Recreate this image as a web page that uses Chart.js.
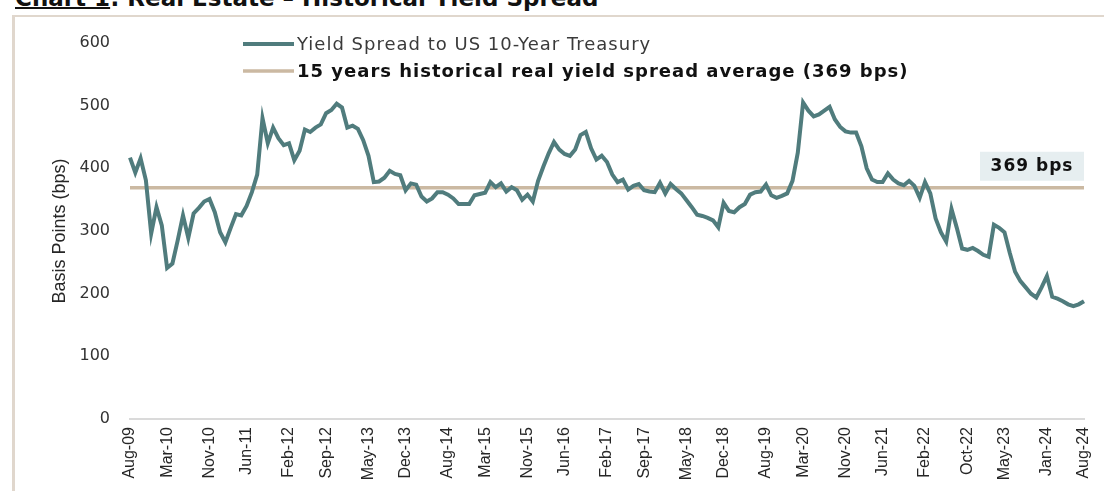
<!DOCTYPE html>
<html>
<head>
<meta charset="utf-8">
<script src="https://cdn.jsdelivr.net/npm/chart.js@4/dist/chart.umd.min.js"></script>
<style>
  body { margin: 0; background: #fff; }
  #wrap { position: relative; width: 1104px; height: 491px; overflow: hidden; background: #fff; }
  #title { position: absolute; left: 15px; top: -16px; font: bold 23px "DejaVu Sans", sans-serif; line-height: 28px; color: #111; white-space: nowrap; }
  #title u { text-decoration-thickness: 2px; }
  #frame { position: absolute; left: 12px; top: 15px; right: -5px; bottom: -5px; border-left: 3px solid #e0d7cd; border-top: 2px solid #e0d7cd; }
  #chart { position: absolute; left: 0; top: 0; }
</style>
</head>
<body>
<div id="wrap">
  <div id="title"><u>Chart 1</u>: Real Estate – Historical Yield Spread</div>
  <div id="frame"></div>
  <canvas id="chart" width="1104" height="491"></canvas>
</div>
<script>
// monthly data, Aug-09 .. Aug-24
const startYear = 2009;
const startMonth = 7; // Aug
const monthNames = ['Jan', 'Feb', 'Mar', 'Apr', 'May', 'Jun', 'Jul', 'Aug', 'Sep', 'Oct', 'Nov', 'Dec'];

const spreadValues = [
  417, 393, 416, 381, 296, 338, 309, 241, 248, 285,
  325, 289, 328, 337, 347, 351, 330, 298, 282, 305,
  327, 325, 340, 362, 390, 480, 440, 465, 448, 437,
  440, 413, 428, 462, 458, 465, 470, 488, 493, 503,
  497, 465, 468, 463, 445, 420, 378, 379, 385, 396,
  391, 389, 365, 376, 374, 355, 347, 352, 362, 362,
  358, 352, 343, 343, 343, 357, 359, 361, 378, 370,
  376, 363, 370, 365, 350, 358, 347, 380, 403, 424,
  442, 430, 423, 420, 430, 453, 458, 432, 414, 420,
  410, 390, 378, 382, 366, 372, 375, 365, 363, 362,
  377, 360, 375, 367, 360, 349, 338, 326, 324, 321,
  317, 306, 345, 332, 330, 338, 343, 358, 362, 363,
  374, 357, 353, 356, 360, 380, 425, 505, 492, 483,
  486, 492, 498, 478, 466, 459, 457, 457, 435, 400,
  382, 378, 378, 392, 382, 376, 373, 380, 372, 353,
  378, 360, 320, 298, 283, 335, 305, 272, 270, 273,
  268, 262, 259, 310, 305, 298, 265, 235, 220, 210,
  200, 194, 210, 228, 195, 192, 188, 183, 180, 183,
  188
];

const averageValue = 369;

const tickLabels = [
  'Aug-09', 'Mar-10', 'Nov-10', 'Jun-11', 'Feb-12', 'Sep-12', 'May-13', 'Dec-13',
  'Aug-14', 'Mar-15', 'Nov-15', 'Jun-16', 'Feb-17', 'Sep-17', 'May-18', 'Dec-18',
  'Aug-19', 'Mar-20', 'Nov-20', 'Jun-21', 'Feb-22', 'Oct-22', 'May-23', 'Jan-24', 'Aug-24'
];

const yTicks = [0, 100, 200, 300, 400, 500, 600];

const categories = [];
for (let i = 0; i < spreadValues.length; i++) {
  const m = (startMonth + i) % 12;
  const y = startYear + Math.floor((startMonth + i) / 12);
  categories.push(monthNames[m] + '-' + String(y).slice(2));
}

const averageLine = categories.map(() => averageValue);

const legendAndLabel = {
  id: 'legendAndLabel',
  afterDraw(chart) {
    const ctx = chart.ctx;
    ctx.save();
    chart.data.datasets.forEach((ds, i) => {
      const y = 44 + i * 27;
      ctx.strokeStyle = ds.borderColor;
      ctx.lineWidth = ds.borderWidth;
      ctx.beginPath();
      ctx.moveTo(243, y);
      ctx.lineTo(294, y);
      ctx.stroke();
      ctx.font = (i === 0 ? '' : 'bold ') + '18px "DejaVu Sans"';
      ctx.fillStyle = i === 0 ? '#3a3a3a' : '#111';
      ctx.textBaseline = 'middle';
      ctx.letterSpacing = '1px';
      ctx.fillText(ds.label, 297, y + 1);
    });
    const yAvg = chart.scales.y.getPixelForValue(averageValue);
    const right = chart.chartArea.right;
    ctx.fillStyle = '#e6eef0';
    ctx.fillRect(right - 104, yAvg - 36, 104, 29);
    ctx.fillStyle = '#111';
    ctx.font = 'bold 17px "DejaVu Sans"';
    ctx.letterSpacing = '1px';
    ctx.textAlign = 'center';
    ctx.textBaseline = 'middle';
    ctx.fillText(averageValue + ' bps', right - 52, yAvg - 21);
    ctx.restore();
  }
};

new Chart(document.getElementById('chart').getContext('2d'), {
  type: 'line',
  data: {
    labels: categories,
    datasets: [{
      label: 'Yield Spread to US 10-Year Treasury',
      data: spreadValues,
      borderColor: '#507c7d',
      borderWidth: 4,
      pointRadius: 0,
      tension: 0,
      fill: false,
      order: 1
    }, {
      label: '15 years historical real yield spread average (' + averageValue + ' bps)',
      data: averageLine,
      borderColor: '#cbb9a2',
      borderWidth: 3.5,
      pointRadius: 0,
      fill: false,
      order: 2
    }]
  },
  options: {
    responsive: false,
    animation: false,
    devicePixelRatio: 1,
    layout: { padding: { top: 43, right: 20, left: 0, bottom: 0 } },
    plugins: {
      legend: { display: false },
      tooltip: { enabled: false }
    },
    scales: {
      x: {
        type: 'category',
        offset: false,
        grid: { display: false, drawTicks: false },
        border: { display: true, color: '#dadada', width: 2 },
        ticks: {
          autoSkip: false,
          minRotation: 90,
          maxRotation: 90,
          padding: 8,
          color: '#262626',
          font: { family: '"Liberation Sans"', size: 16 },
          callback: function (value) {
            const lab = this.getLabelForValue(value);
            return tickLabels.includes(lab) ? lab : null;
          }
        },
        afterFit(scale) {
          scale.height = 72;
          scale.paddingLeft = 0;
          scale.paddingRight = 0;
        }
      },
      y: {
        min: 0,
        max: 600,
        afterBuildTicks(scale) { scale.ticks = yTicks.map(v => ({ value: v })); },
        grid: { display: false, drawTicks: false },
        border: { display: false },
        ticks: {
          padding: 20,
          color: '#333',
          font: { family: '"DejaVu Sans"', size: 16 }
        },
        title: {
          display: true,
          text: 'Basis Points (bps)',
          color: '#262626',
          font: { family: '"Liberation Sans"', size: 18 },
          padding: { top: 49, bottom: 0 }
        },
        afterFit(scale) { scale.width = 130; }
      }
    }
  },
  plugins: [legendAndLabel]
});
</script>
</body>
</html>
